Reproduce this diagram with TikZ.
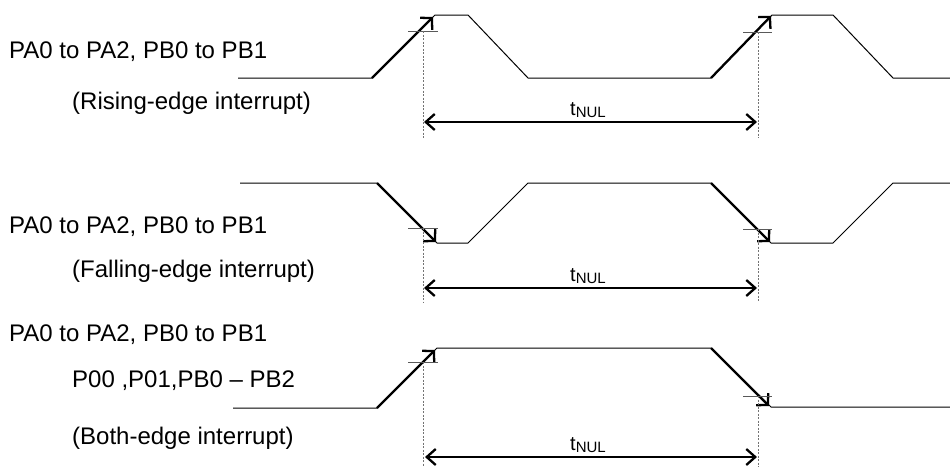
\documentclass[tikz,border=0pt]{standalone}
\usepackage{fontspec}
\setmainfont{Liberation Sans}
\usetikzlibrary{arrows.meta}
\begin{document}
\begin{tikzpicture}[x=1pt,y=-1pt,
  wave/.style={line width=1pt,black},
  edgearrow/.style={line width=2.3pt,-{Straight Barb[length=8pt,width=17pt]}},
  span/.style={line width=2.3pt,{Straight Barb[length=9pt,width=16pt]}-{Straight Barb[length=9pt,width=16pt]}},
  tickmark/.style={line width=1pt,black!65},
  guide/.style={line width=1pt,black!55,dash pattern=on 2pt off 1.5pt},
  lbl/.style={anchor=base west,inner sep=0pt,font=\fontsize{24}{28}\selectfont},
  tlbl/.style={anchor=base,inner sep=0pt,font=\fontsize{20}{24}\selectfont}]
\useasboundingbox (0,0) rectangle (950,467);

% ---------- row 1 : rising edge ----------
\draw[wave] (238,78) -- (372,78) -- (435,15) -- (468,15) -- (528,78) -- (711,78) -- (772,15) -- (833,15) -- (893,78) -- (950,78);
\coordinate (r1a) at (372,78); \coordinate (r1b) at (433,17);
\coordinate (r1c) at (711,78); \coordinate (r1d) at (771,16);
\draw[edgearrow] (r1a) -- (r1b);
\draw[edgearrow] (r1c) -- (r1d);
\draw[tickmark] (408,31) -- (438,31);
\draw[tickmark] (743,32) -- (772,32);
\coordinate (g1a) at (423,31); \coordinate (g1b) at (423,138);
\coordinate (g1c) at (758,32); \coordinate (g1d) at (758,138);
\draw[guide] (g1a) -- (g1b);
\draw[guide] (g1c) -- (g1d);
\coordinate (s1a) at (424,122); \coordinate (s1b) at (757,122);
\draw[span] (s1a) -- (s1b);
\node[tlbl] (t1) at (588,115) {t{\fontsize{15}{18}\selectfont\raisebox{-2pt}{NUL}}};
\node[lbl] (p1) at (9,58) {PA0 to PA2, PB0 to PB1};
\node[lbl] (q1) at (72,109) {(Rising-edge interrupt)};

% ---------- row 2 : falling edge ----------
\draw[wave] (240,183) -- (377,183) -- (437,243) -- (468,243) -- (528,183) -- (711,183) -- (771,243) -- (833,243) -- (893,183) -- (950,183);
\coordinate (r2a) at (377,183); \coordinate (r2b) at (436,242);
\coordinate (r2c) at (711,183); \coordinate (r2d) at (770,242);
\draw[edgearrow] (r2a) -- (r2b);
\draw[edgearrow] (r2c) -- (r2d);
\draw[tickmark] (408,228) -- (438,228);
\draw[tickmark] (743,229) -- (772,229);
\coordinate (g2a) at (423,228); \coordinate (g2b) at (423,302);
\coordinate (g2c) at (758,229); \coordinate (g2d) at (758,302);
\draw[guide] (g2a) -- (g2b);
\draw[guide] (g2c) -- (g2d);
\coordinate (s2a) at (424,288); \coordinate (s2b) at (757,288);
\draw[span] (s2a) -- (s2b);
\node[tlbl] (t2) at (588,281) {t{\fontsize{15}{18}\selectfont\raisebox{-2pt}{NUL}}};
\node[lbl] (p2) at (9,233) {PA0 to PA2, PB0 to PB1};
\node[lbl] (q2) at (72,277) {(Falling-edge interrupt)};

% ---------- row 3 : both edges ----------
\draw[wave] (233,408) -- (377,408) -- (437,348) -- (711,348) -- (771,407) -- (950,407);
\coordinate (r3a) at (377,408); \coordinate (r3b) at (435,350);
\coordinate (r3c) at (711,348); \coordinate (r3d) at (769,406);
\draw[edgearrow] (r3a) -- (r3b);
\draw[edgearrow] (r3c) -- (r3d);
\draw[tickmark] (408,362) -- (438,362);
\draw[tickmark] (743,396) -- (772,396);
\coordinate (g3a) at (423,362); \coordinate (g3b) at (423,467);
\coordinate (g3c) at (758,396); \coordinate (g3d) at (758,467);
\draw[guide] (g3a) -- (g3b);
\draw[guide] (g3c) -- (g3d);
\coordinate (s3a) at (425,457); \coordinate (s3b) at (757,457);
\draw[span] (s3a) -- (s3b);
\node[tlbl] (t3) at (588,450) {t{\fontsize{15}{18}\selectfont\raisebox{-2pt}{NUL}}};
\node[lbl] (p3) at (9,341) {PA0 to PA2, PB0 to PB1};
\node[lbl] (m3) at (72,387) {P00 ,P01,PB0 – PB2};
\node[lbl] (q3) at (72,444) {(Both-edge interrupt)};
\end{tikzpicture}
\end{document}
